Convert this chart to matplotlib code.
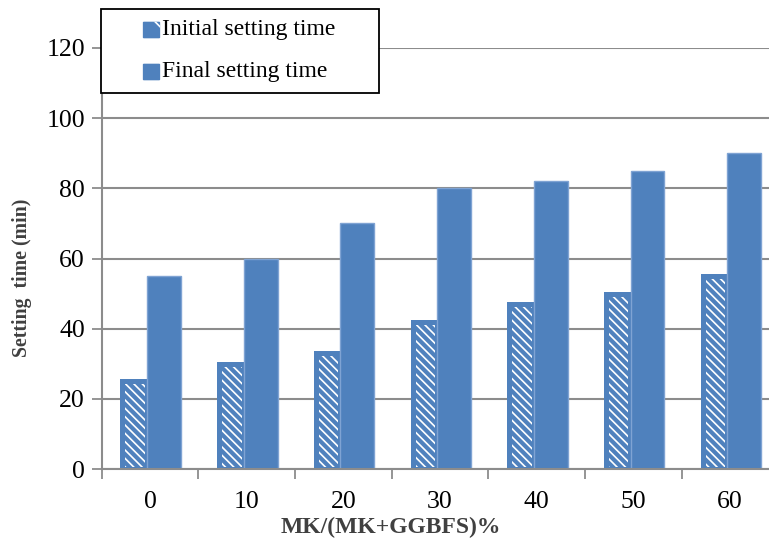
#!/usr/bin/env python3
"""
Setting time vs MK/(MK+GGBFS) ratio - grouped bar chart
"""

import numpy as np
import matplotlib
matplotlib.use('Agg')
import matplotlib.pyplot as plt
from matplotlib.patches import FancyBboxPatch, Rectangle

# data
categories = ['0', '10', '20', '30', '40', '50', '60']
initial_time = [25, 30, 33, 42, 47, 50, 55]
final_time = [55, 60, 70, 80, 82, 85, 90]
series_names = ['Initial setting time', 'Final setting time']
y_ticks = [0, 20, 40, 60, 80, 100, 120]

blue = '#4F81BD'
grid_gray = '#8C8C8C'
label_gray = '#404040'
serif = ['Liberation Serif', 'DejaVu Serif']

plt.rcParams['font.family'] = serif
plt.rcParams['hatch.linewidth'] = 1.2

W, H = 769, 542
fig = plt.figure(figsize=(W / 100, H / 100), dpi=100)


def fx(px):
    return px / W


def fy(py):
    # pixel row from top -> figure fraction
    return 1 - py / H


# axes placed in pixel terms
left, right = 101.6, 778.5
y0, y120 = 469, 48
ax = fig.add_axes([fx(left), fy(y0), fx(right - left), (y0 - y120) / H])

x = np.arange(len(categories))

# initial setting time: white hatch on blue, thick blue border
ax.bar(x - 0.158, initial_time, width=0.253, color=blue, edgecolor='white',
       hatch='\\\\\\\\', linewidth=0, zorder=3)
ax.bar(x - 0.158, initial_time, width=0.253, facecolor='none', edgecolor=blue,
       linewidth=3.6, zorder=4)
# final setting time: solid blue
ax.bar(x + 0.145, final_time, width=0.35, color=blue, edgecolor='#7FA3D3',
       linewidth=1.0, zorder=5)

ax.set_xlim(-0.5, len(categories) - 0.5)
ax.set_ylim(0, 120)
ax.set_yticks(y_ticks)
ax.set_yticklabels([str(v) for v in y_ticks])
ax.set_xticks(x)
ax.set_xticklabels(categories)
ax.set_xticks(np.arange(len(categories) + 1) - 0.5, minor=True)

ax.tick_params(axis='y', direction='out', length=7, width=1.3, color=grid_gray,
               labelsize=18.5, pad=5)
ax.tick_params(axis='x', which='major', length=0, labelsize=18.5, pad=16)
ax.tick_params(axis='x', which='minor', direction='out', length=7, width=1.3,
               color=grid_gray)

ax.grid(axis='y', color=grid_gray, linewidth=1.5, zorder=0)
ax.set_axisbelow(True)
for s in ['top', 'right']:
    ax.spines[s].set_visible(False)
for s in ['left', 'bottom']:
    ax.spines[s].set_color(grid_gray)
    ax.spines[s].set_linewidth(1.5)
    ax.spines[s].set_zorder(6)

# axis titles
fig.text(fx(22), fy(278), 'Setting  time (min)', rotation=90, ha='center',
         va='center', fontsize=14.2, fontweight='bold', color=label_gray)
fig.text(fx(391), fy(527), 'MK/(MK+GGBFS)%', ha='center', va='center',
         fontsize=17, fontweight='bold', color=label_gray)

# legend box drawn by hand
leg_box = Rectangle((fx(101), fy(93)), fx(379 - 101), (93 - 9) / H,
                    transform=fig.transFigure, facecolor='white',
                    edgecolor='black', linewidth=1.3, zorder=10)
fig.add_artist(leg_box)

entries = [(30, dict(facecolor=blue, edgecolor='white', hatch='\\')),
           (72, dict(facecolor=blue, edgecolor=blue))]
for (ty, style), name in zip(entries, series_names):
    mk = FancyBboxPatch((fx(144), fy(ty + 7.5)), fx(15), 15 / H,
                        boxstyle='round,pad=0.0015', transform=fig.transFigure,
                        linewidth=0, zorder=11, **style)
    fig.add_artist(mk)
    fig.text(fx(162), fy(ty), name, ha='left', va='center', fontsize=17,
             color='black', zorder=12)

plt.savefig('out.png', dpi=100)
